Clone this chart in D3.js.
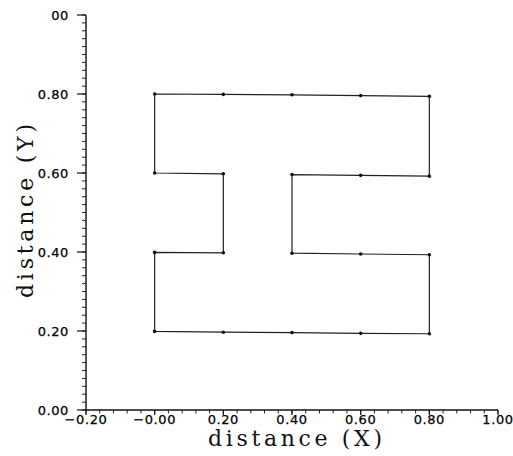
<!DOCTYPE html>
<html>
<head>
<meta charset="utf-8">
<script src="https://cdn.jsdelivr.net/npm/d3@7"></script>
<style>
  body { margin: 0; background: #fff; }
  .tick-label { font-family: "DejaVu Sans", sans-serif; font-size: 13px; letter-spacing: 0.6px; fill: #000; stroke: #000; stroke-width: 0.25px; }
  .axis-title { font-family: "DejaVu Serif", "Liberation Serif", serif; font-size: 22px; fill: #111; }
</style>
</head>
<body>
<div id="chart"></div>
<script>
// tick values and labels
var xTicks = [-0.2, 0, 0.2, 0.4, 0.6, 0.8, 1.0];
var xTickLabels = ["\u22120.20", "\u22120.00", "0.20", "0.40", "0.60", "0.80", "1.00"];
var yTicks = [0, 0.2, 0.4, 0.6, 0.8, 1.0];
var yTickLabels = ["0.00", "0.20", "0.40", "0.60", "0.80", "1.00"];

// outline of the section (closed path)
var outlineX = [0, 0.2, 0.4, 0.6, 0.8, 0.8, 0.6, 0.4, 0.4, 0.6, 0.8, 0.8, 0.6, 0.4, 0.2, 0, 0, 0.2, 0.2, 0, 0];
var outlineY = [0.800, 0.799, 0.798, 0.796, 0.794, 0.592, 0.594, 0.596, 0.397, 0.395, 0.393,
                0.193, 0.194, 0.196, 0.197, 0.199, 0.399, 0.398, 0.598, 0.600, 0.800];

var width = 513,
    height = 456;

var svg = d3.select("#chart")
    .append("svg")
    .attr("width", width)
    .attr("height", height);

var x = d3.scaleLinear()
    .domain([-0.2, 1.0])
    .range([86, 498]);

var y = d3.scaleLinear()
    .domain([0, 1.0])
    .range([410, 15]);

// minor ticks
var xMinor = d3.range(-0.2, 1.0001, 0.04);
var yMinor = d3.range(0, 1.0001, 0.02);

var g = svg.append("g");

// x axis
g.append("line")
    .attr("x1", x(-0.2)).attr("x2", x(1.0))
    .attr("y1", y(0)).attr("y2", y(0))
    .attr("stroke", "#111").attr("stroke-width", 1.4);

g.selectAll(".xminor")
    .data(xMinor)
    .enter().append("line")
    .attr("x1", function(d) { return x(d); })
    .attr("x2", function(d) { return x(d); })
    .attr("y1", y(0)).attr("y2", y(0) + 3.5)
    .attr("stroke", "#222").attr("stroke-width", 1);

g.selectAll(".xmajor")
    .data(xTicks)
    .enter().append("line")
    .attr("x1", function(d) { return x(d); })
    .attr("x2", function(d) { return x(d); })
    .attr("y1", y(0)).attr("y2", y(0) + 5)
    .attr("stroke", "#111").attr("stroke-width", 1.2);

g.selectAll(".xlab")
    .data(xTicks)
    .enter().append("text")
    .attr("class", "tick-label")
    .attr("x", function(d) { return x(d); })
    .attr("y", y(0) + 14)
    .attr("text-anchor", "middle")
    .text(function(d, i) { return xTickLabels[i]; });

// y axis
g.append("line")
    .attr("x1", x(-0.2)).attr("x2", x(-0.2))
    .attr("y1", y(0)).attr("y2", y(1.0))
    .attr("stroke", "#111").attr("stroke-width", 1.4);

g.selectAll(".yminor")
    .data(yMinor)
    .enter().append("line")
    .attr("x1", x(-0.2) - 4).attr("x2", x(-0.2))
    .attr("y1", function(d) { return y(d); })
    .attr("y2", function(d) { return y(d); })
    .attr("stroke", "#222").attr("stroke-width", 1);

g.selectAll(".ymajor")
    .data(yTicks)
    .enter().append("line")
    .attr("x1", x(-0.2) - 9).attr("x2", x(-0.2))
    .attr("y1", function(d) { return y(d); })
    .attr("y2", function(d) { return y(d); })
    .attr("stroke", "#111").attr("stroke-width", 1.2);

// top label is partly cut off in the original
svg.append("defs").append("clipPath")
    .attr("id", "topclip")
    .append("rect")
    .attr("x", 50).attr("y", 0)
    .attr("width", 40).attr("height", 30);

g.selectAll(".ylab")
    .data(yTicks)
    .enter().append("text")
    .attr("class", "tick-label")
    .attr("x", x(-0.2) - 17)
    .attr("y", function(d) { return y(d) + 4.5; })
    .attr("text-anchor", "end")
    .attr("clip-path", function(d) { return d === 1.0 ? "url(#topclip)" : null; })
    .text(function(d, i) { return yTickLabels[i]; });

// axis titles
svg.append("text")
    .attr("class", "axis-title")
    .attr("x", 208)
    .attr("y", 446)
    .attr("textLength", 174)
    .attr("lengthAdjust", "spacing")
    .text("distance (X)");

svg.append("text")
    .attr("class", "axis-title")
    .attr("transform", "translate(33,298) rotate(-90)")
    .attr("textLength", 174)
    .attr("lengthAdjust", "spacing")
    .text("distance (Y)");

// outline
var pts = outlineX.map(function(d, i) { return [d, outlineY[i]]; });

var line = d3.line()
    .x(function(d) { return x(d[0]); })
    .y(function(d) { return y(d[1]); });

svg.append("path")
    .datum(pts)
    .attr("d", line)
    .attr("fill", "none")
    .attr("stroke", "#222")
    .attr("stroke-width", 1.2);

svg.selectAll(".node")
    .data(pts.slice(0, pts.length - 1))
    .enter().append("circle")
    .attr("cx", function(d) { return x(d[0]); })
    .attr("cy", function(d) { return y(d[1]); })
    .attr("r", 1.8)
    .attr("fill", "#111");
</script>
</body>
</html>
